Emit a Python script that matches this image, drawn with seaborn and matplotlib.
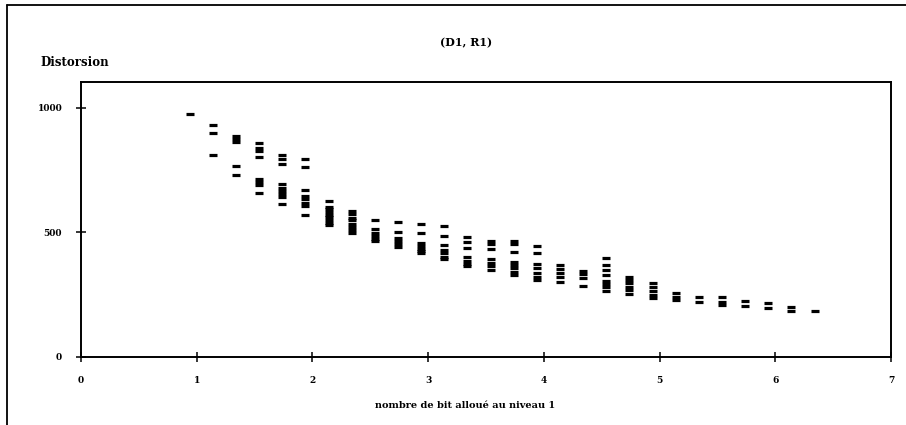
import matplotlib
matplotlib.use("Agg")
import matplotlib.pyplot as plt
from matplotlib.lines import Line2D
import pandas as pd
import seaborn as sns

# Bits allocated to level 1 (one column of points per allocation)
bits = [0.94, 1.14, 1.34, 1.54, 1.74, 1.94, 2.14, 2.34, 2.54, 2.74,
        2.94, 3.14, 3.34, 3.54, 3.74, 3.94, 4.14, 4.34, 4.54, 4.74,
        4.94, 5.14, 5.34, 5.54, 5.74, 5.94, 6.14, 6.34]

# Distortion values measured for each allocation
distortion = [
    [977],
    [933, 901, 811],
    [886, 874, 862, 767, 732],
    [859, 839, 829, 804, 716, 704, 691, 660],
    [810, 795, 776, 695, 677, 667, 653, 643, 616],
    [795, 764, 672, 648, 633, 620, 608, 569],
    [628, 604, 593, 582, 571, 561, 550, 539, 529],
    [586, 573, 560, 550, 533, 521, 510, 499],
    [549, 513, 499, 487, 475, 465],
    [541, 501, 477, 466, 454, 441],
    [533, 499, 457, 446, 435, 425, 416],
    [527, 487, 450, 430, 416, 403, 394],
    [481, 463, 439, 400, 387, 373, 365],
    [467, 454, 433, 392, 379, 365, 349],
    [467, 454, 422, 383, 369, 356, 343, 329],
    [446, 419, 373, 356, 339, 322, 309],
    [369, 352, 336, 320, 302],
    [347, 333, 316, 285],
    [396, 369, 349, 329, 306, 293, 280, 266],
    [322, 309, 296, 282, 269, 253],
    [296, 282, 266, 249, 238],
    [256, 242, 229],
    [240, 222],
    [240, 222, 209],
    [226, 206],
    [216, 196],
    [200, 186],
    [186],
]

x_ticks = [0, 1, 2, 3, 4, 5, 6, 7]
y_ticks = [0, 500, 1000]

rows = [(b, d) for b, col in zip(bits, distortion) for d in col]
df = pd.DataFrame(rows, columns=["bits", "distortion"])

sns.set_style("ticks")
plt.rcParams["font.family"] = ["DejaVu Serif"]
plt.rcParams["font.weight"] = "bold"
plt.rcParams["text.color"] = "black"
plt.rcParams["xtick.color"] = "black"
plt.rcParams["ytick.color"] = "black"
plt.rcParams["axes.labelcolor"] = "black"

fig = plt.figure(figsize=(9.06, 4.25), dpi=100)
ax = fig.add_axes([81 / 906, 1 - 357 / 425, (891 - 81) / 906, (357 - 82) / 425])

sns.scatterplot(data=df, x="bits", y="distortion", marker="_", s=30,
                linewidth=2.3, color="black", ax=ax, legend=False)

ax.set_xlim(0, 7)
ax.set_ylim(0, 1104)
ax.set_xticks(x_ticks)
ax.set_yticks(y_ticks)
ax.set_xticklabels([str(v) for v in x_ticks], fontsize=6.5, fontweight="bold",
                   color="black")
ax.set_yticklabels([str(v) for v in y_ticks], fontsize=6.5, fontweight="bold",
                   color="black")
ax.tick_params(axis="both", direction="inout", length=7, width=1.1,
               color="black", pad=10)
ax.set_xlabel("")
ax.set_ylabel("")
for sp in ax.spines.values():
    sp.set_visible(True)
    sp.set_linewidth(1.4)
    sp.set_color("black")

fig.text(466 / 906, 1 - 43 / 425, "(D1, R1)", ha="center", va="center",
         fontsize=8, fontweight="bold", color="black")
fig.text(40 / 906, 1 - 62 / 425, "Distorsion", ha="left", va="center",
         fontsize=8.5, fontweight="bold", color="black")
fig.text(465 / 906, 1 - 405 / 425, "nombre de bit alloué au niveau 1",
         ha="center", va="center", fontsize=7, fontweight="bold",
         color="black")

# Outer frame around the figure (left and top edges)
fig.add_artist(Line2D([7 / 906, 7 / 906], [0, 1 - 5 / 425],
                      transform=fig.transFigure, color="black", lw=1.3))
fig.add_artist(Line2D([7 / 906, 1], [1 - 5 / 425, 1 - 5 / 425],
                      transform=fig.transFigure, color="black", lw=1.3))

fig.savefig("out.png", dpi=100, facecolor="white")
